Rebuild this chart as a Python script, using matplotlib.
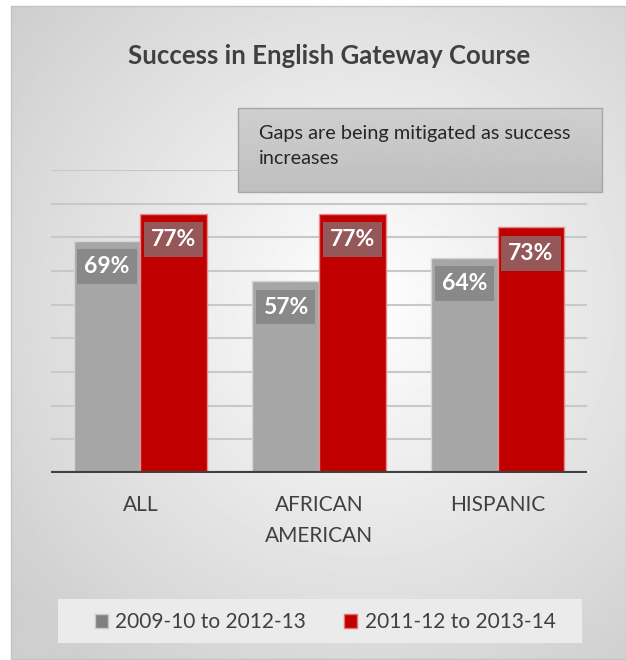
import numpy as np
import matplotlib
matplotlib.use("Agg")
from matplotlib import pyplot as plt
from matplotlib.patches import Rectangle, Patch

# data
categories = ["ALL", "AFRICAN\nAMERICAN", "HISPANIC"]
series_names = ["2009-10 to 2012-13", "2011-12 to 2013-14"]
older = [0.69, 0.57, 0.64]
newer = [0.77, 0.77, 0.73]

plt.rcParams['font.family'] = ['Lato', 'DejaVu Sans']
W, H = 626, 660
fig = plt.figure(figsize=(W / 100, H / 100), dpi=100, facecolor='white')

# background panel with soft radial gradient (pixel coords)
bg = fig.add_axes([0, 0, 1, 1])
bg.axis('off')
yy, xx = np.mgrid[0:H, 0:W]
r = np.hypot(xx - 360, yy - 300)
shade = 1 - 0.19 * np.clip(r / 460, 0, 1)
bg.imshow(shade, cmap='gray', vmin=0, vmax=1, extent=(11, 626, 659, 6),
          interpolation='bilinear', zorder=0)
bg.add_patch(Rectangle((11, 6), 615, 653, fill=False, ec='#c4c4c4', lw=1, zorder=1))
bg.set_xlim(0, W)
bg.set_ylim(H, 0)

# main bar chart
ax = fig.add_axes([51 / W, (H - 473) / H, (587 - 51) / W, (473 - 170) / H])
ax.patch.set_alpha(0)
x = np.arange(len(categories))
bw = 0.373
b1 = ax.bar(x - bw / 2, older, bw, color='#a6a6a6', edgecolor='#d6d6d6', lw=1, zorder=2)
b2 = ax.bar(x + bw / 2, newer, bw, color='#c00000', edgecolor='#e88a8a', lw=1, zorder=2)
ax.set_xlim(-0.5, 2.5)
ax.set_ylim(0, 0.9)
ax.set_yticks(np.arange(0.1, 0.91, 0.1))
ax.yaxis.grid(True, color='#c8c8c8', lw=1.5, zorder=0)
ax.set_axisbelow(True)
ax.tick_params(axis='y', length=0, labelleft=False)
ax.axhline(0, color='#404040', lw=3, zorder=3)
for s in ax.spines.values():
    s.set_visible(False)
ax.set_xticks(x)
ax.set_xticklabels(categories, fontsize=15, color='#404040', linespacing=1.7)
ax.tick_params(axis='x', length=0, pad=16)

for bars, vals, boxc in [(b1, older, '#898989'), (b2, newer, '#955757')]:
    for b, v in zip(bars, vals):
        ax.text(b.get_x() + b.get_width() / 2, v - 0.077, f"{round(v * 100)}%",
                ha='center', va='center', fontsize=16.5, fontweight='bold', color='white',
                bbox=dict(boxstyle='square,pad=0.3', fc=boxc, ec='none'), zorder=4)

# overlay: title, note box, legend
top = fig.add_axes([0, 0, 1, 1])
top.axis('off')
top.patch.set_alpha(0)

top.text(329, 56, "Success in English Gateway Course", ha='center', va='center',
         fontsize=18.5, fontweight='bold', color='#404040')

grad = np.linspace(0.81, 0.75, 50).reshape(-1, 1)
top.imshow(grad, cmap='gray', vmin=0, vmax=1, extent=(238, 602, 192, 108),
           aspect='auto', zorder=1)
top.add_patch(Rectangle((238, 108), 364, 84, fill=False, ec='#a6a6a6', lw=1, zorder=2))
top.text(259, 146, "Gaps are being mitigated as success\nincreases", ha='left', va='center',
         fontsize=14.3, color='#262626', linespacing=1.5, zorder=3)

top.add_patch(Rectangle((58, 599), 524, 44, fc='#ebebeb', ec='none', zorder=1))
handles = [Patch(fc='#7f7f7f', ec='#c8c8c8', lw=1),
           Patch(fc='#c00000', ec='#e87070', lw=1)]
leg = top.legend(handles, series_names, loc='center', bbox_to_anchor=(325 / W, 1 - 622 / H),
                 bbox_transform=fig.transFigure, ncol=2, frameon=False, fontsize=15,
                 handlelength=0.65, handleheight=0.65, handletextpad=0.35,
                 columnspacing=1.8, labelcolor='#404040')
leg.set_zorder(3)

top.set_xlim(0, W)
top.set_ylim(H, 0)
fig.savefig('out.png', dpi=100, facecolor='white')
